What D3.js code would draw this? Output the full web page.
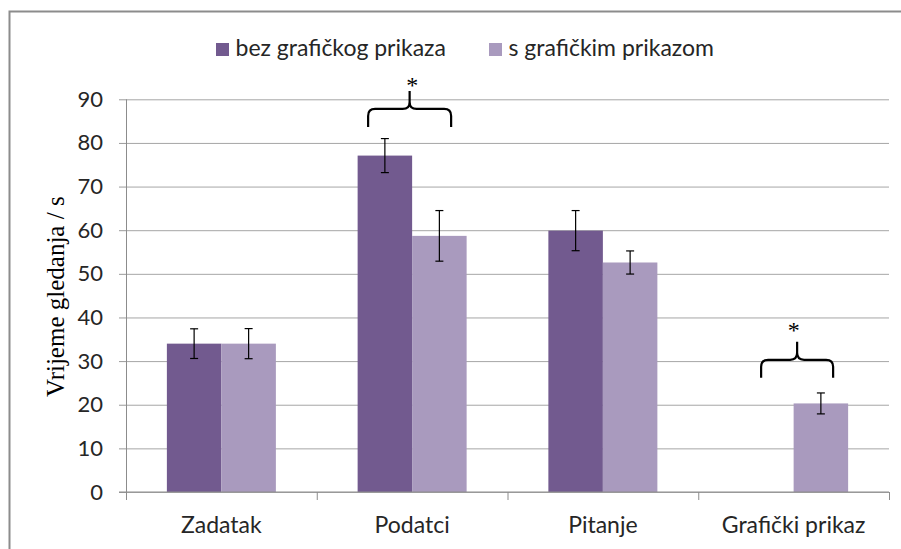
<!DOCTYPE html>
<html>
<head>
<meta charset="utf-8">
<script src="https://cdn.jsdelivr.net/npm/d3@7"></script>
<style>
    body { margin: 0; background: #fff; }
    svg { display: block; }
</style>
</head>
<body>
<svg id="chart" width="901" height="549"></svg>
<script>
// data
var categories = ["Zadatak", "Podatci", "Pitanje", "Grafički prikaz"];
var seriesNames = ["bez grafičkog prikaza", "s grafičkim prikazom"];
var bezValues = [34.0, 77.1, 59.9, null];
var bezErrors = [3.4, 3.9, 4.6, null];
var sValues = [34.0, 58.7, 52.6, 20.3];
var sErrors = [3.45, 5.8, 2.65, 2.4];
var yTicks = [0, 10, 20, 30, 40, 50, 60, 70, 80, 90];
// significance marks: category, level of the brace, level of the star
var sigCategories = ["Podatci", "Grafički prikaz"];
var sigBraceLevel = [87.8, 30.3];
var sigStarLevel = [94.5, 38.3];

function drawChart() {
    var colors = ["#725A8F", "#A99ABE"];
    var left = 126, right = 889, top = 99.3, bottom = 492;
    var sans = "Lato, 'Open Sans', sans-serif";
    var serif = "'Liberation Serif', 'Times New Roman', serif";

    var svg = d3.select("#chart");

    // outer frame, cut by the picture on the right and bottom
    svg.append("rect")
        .attr("x", 9.5).attr("y", 11.5)
        .attr("width", 960).attr("height", 600)
        .attr("fill", "none")
        .attr("stroke", "#8c8c8c")
        .attr("stroke-width", 2);

    var x = d3.scaleBand().domain(categories).range([left, right]);
    var xs = d3.scaleBand().domain(seriesNames).range([0, x.bandwidth()]).paddingOuter(0.75);
    var y = d3.scaleLinear().domain([0, 90]).range([bottom, top]);

    // gridlines + y axis
    var yAxis = svg.append("g")
        .attr("transform", "translate(" + left + ",0)")
        .call(d3.axisLeft(y).tickValues(yTicks).tickSize(7).tickPadding(16));
    yAxis.select(".domain").remove();
    yAxis.selectAll(".tick line").attr("stroke", "#9a9a9a");
    yAxis.selectAll(".tick").append("line")
        .attr("x2", right - left)
        .attr("stroke", "#a6a6a6");
    yAxis.selectAll(".tick text")
        .attr("font-family", sans)
        .attr("font-size", 22)
        .attr("fill", "#262626");
    svg.append("line")
        .attr("x1", left + 0.5).attr("x2", left + 0.5)
        .attr("y1", y(90)).attr("y2", y(0))
        .attr("stroke", "#8c8c8c");

    // bars
    var rows = categories.map(function (c, i) {
        return [
            { cat: c, s: seriesNames[0], v: bezValues[i], e: bezErrors[i] },
            { cat: c, s: seriesNames[1], v: sValues[i], e: sErrors[i] }
        ];
    });
    var flat = [].concat.apply([], rows).filter(function (d) { return d.v != null; });

    svg.append("g").selectAll("rect").data(flat)
        .enter().append("rect")
        .attr("x", function (d) { return x(d.cat) + xs(d.s); })
        .attr("y", function (d) { return y(d.v); })
        .attr("width", xs.bandwidth())
        .attr("height", function (d) { return y(0) - y(d.v); })
        .attr("fill", function (d) { return colors[seriesNames.indexOf(d.s)]; });

    // x axis
    var xAxisLine = svg.append("g").attr("transform", "translate(0," + bottom + ")");
    xAxisLine.append("line")
        .attr("x1", left - 7).attr("x2", right)
        .attr("stroke", "#8c8c8c");
    xAxisLine.selectAll("line.tk").data(d3.range(categories.length + 1))
        .enter().append("line")
        .attr("class", "tk")
        .attr("x1", function (i) { return left + i * x.step() + 0.5; })
        .attr("x2", function (i) { return left + i * x.step() + 0.5; })
        .attr("y2", 8)
        .attr("stroke", "#8c8c8c");
    xAxisLine.selectAll("text").data(categories)
        .enter().append("text")
        .attr("x", function (d) { return x(d) + x.bandwidth() / 2; })
        .attr("y", 41)
        .attr("text-anchor", "middle")
        .attr("font-family", sans)
        .attr("font-size", 23)
        .attr("fill", "#262626")
        .text(function (d) { return d; });

    // error bars
    var err = svg.append("g").selectAll("g").data(flat)
        .enter().append("g")
        .attr("transform", function (d) {
            return "translate(" + (x(d.cat) + xs(d.s) + xs.bandwidth() / 2) + ",0)";
        })
        .attr("stroke", "#000")
        .attr("stroke-width", 1.2);
    err.append("line")
        .attr("y1", function (d) { return y(d.v + d.e); })
        .attr("y2", function (d) { return y(d.v - d.e); });
    err.append("line")
        .attr("x1", -4).attr("x2", 4)
        .attr("y1", function (d) { return y(d.v + d.e); })
        .attr("y2", function (d) { return y(d.v + d.e); });
    err.append("line")
        .attr("x1", -4).attr("x2", 4)
        .attr("y1", function (d) { return y(d.v - d.e); })
        .attr("y2", function (d) { return y(d.v - d.e); });

    // significance braces
    var braceHalf = [41.5, 36];
    var braceShift = [-2.5, 3.5];
    function bracePath(cx, yh, hw) {
        var d = 18, s = 18, r = 7;
        return "M" + (cx - hw) + "," + (yh + d) +
            "L" + (cx - hw) + "," + (yh + r) +
            "Q" + (cx - hw) + "," + yh + "," + (cx - hw + r) + "," + yh +
            "L" + (cx - r) + "," + yh +
            "Q" + cx + "," + yh + "," + cx + "," + (yh - r) +
            "L" + cx + "," + (yh - s) +
            "M" + cx + "," + (yh - r) +
            "Q" + cx + "," + yh + "," + (cx + r) + "," + yh +
            "L" + (cx + hw - r) + "," + yh +
            "Q" + (cx + hw) + "," + yh + "," + (cx + hw) + "," + (yh + r) +
            "L" + (cx + hw) + "," + (yh + d);
    }
    sigCategories.forEach(function (c, i) {
        var cx = x(c) + x.bandwidth() / 2;
        svg.append("path")
            .attr("d", bracePath(cx + braceShift[i], y(sigBraceLevel[i]), braceHalf[i]))
            .attr("fill", "none")
            .attr("stroke", "#000")
            .attr("stroke-width", 2.2);
        svg.append("text")
            .attr("x", cx)
            .attr("y", y(sigStarLevel[i]) + 13)
            .attr("text-anchor", "middle")
            .attr("font-family", serif)
            .attr("font-size", 24)
            .text("*");
    });

    // y title
    svg.append("text")
        .attr("transform", "translate(64," + ((top + bottom) / 2 + 1) + ") rotate(-90)")
        .attr("text-anchor", "middle")
        .attr("font-family", serif)
        .attr("font-size", 25)
        .attr("fill", "#000")
        .text("Vrijeme gledanja / s");

    // legend
    var legendX = [216, 489];
    var legend = svg.append("g").selectAll("g").data(seriesNames)
        .enter().append("g")
        .attr("transform", function (d, i) { return "translate(" + legendX[i] + ",43)"; });
    legend.append("rect")
        .attr("width", 13).attr("height", 13)
        .attr("fill", function (d, i) { return colors[i]; });
    legend.append("text")
        .attr("x", 19.5).attr("y", 13)
        .attr("font-family", sans)
        .attr("font-size", 23)
        .attr("fill", "#262626")
        .text(function (d) { return d; });
}

drawChart();
</script>
</body>
</html>
